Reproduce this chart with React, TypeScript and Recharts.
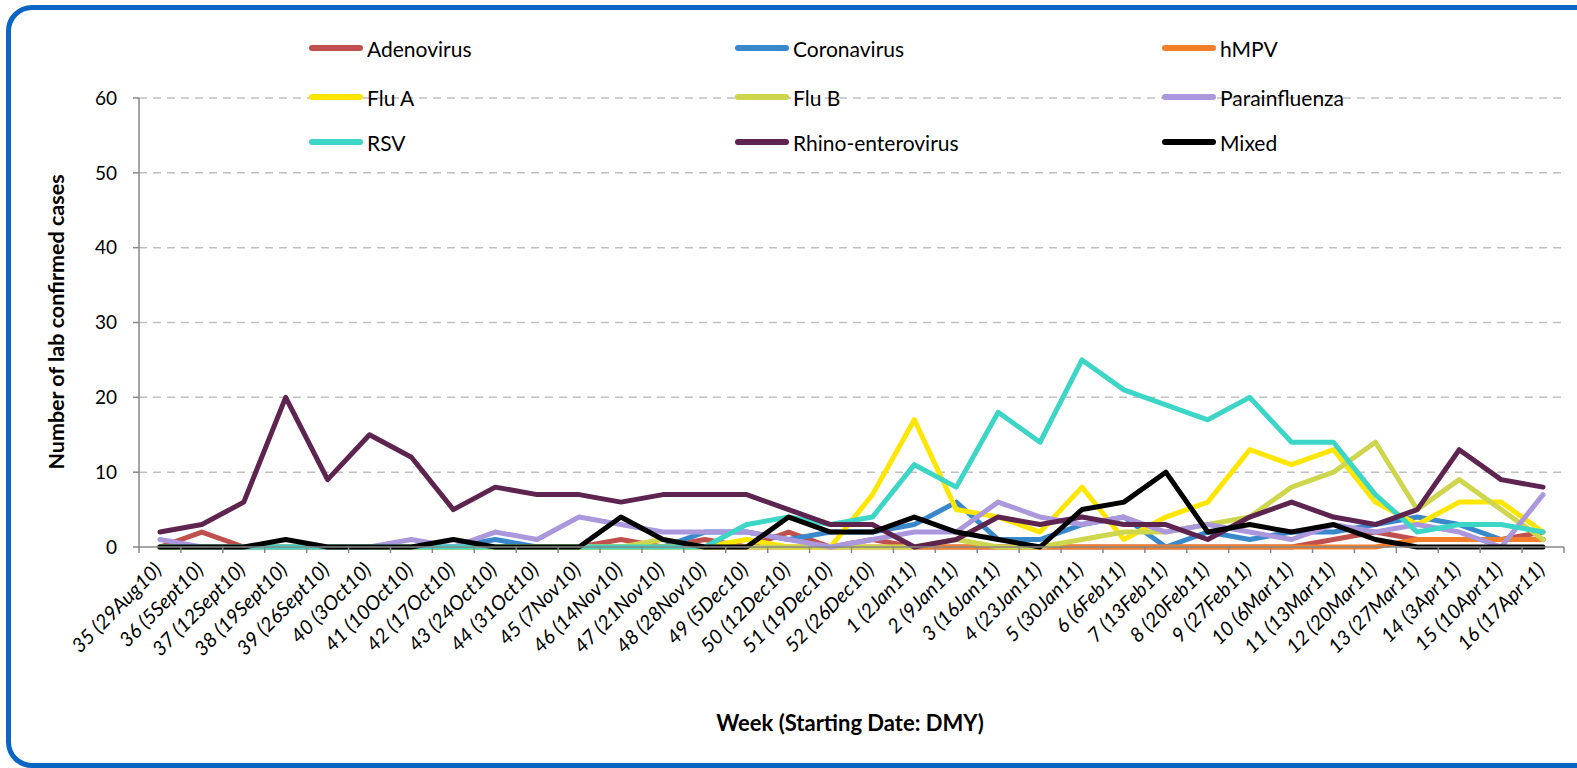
import { LineChart, Line, XAxis, YAxis, CartesianGrid } from "recharts";

const weeks = [
  "35 (29Aug10)", "36 (5Sept10)", "37 (12Sept10)", "38 (19Sept10)", "39 (26Sept10)",
  "40 (3Oct10)", "41 (10Oct10)", "42 (17Oct10)", "43 (24Oct10)", "44 (31Oct10)",
  "45 (7Nov10)", "46 (14Nov10)", "47 (21Nov10)", "48 (28Nov10)", "49 (5Dec10)",
  "50 (12Dec10)", "51 (19Dec10)", "52 (26Dec10)", "1 (2Jan11)", "2 (9Jan11)",
  "3 (16Jan11)", "4 (23Jan11)", "5 (30Jan11)", "6 (6Feb11)", "7 (13Feb11)",
  "8 (20Feb11)", "9 (27Feb11)", "10 (6Mar11)", "11 (13Mar11)", "12 (20Mar11)",
  "13 (27Mar11)", "14 (3Apr11)", "15 (10Apr11)", "16 (17Apr11)",
];

const adenovirus = [0, 2, 0, 0, 0, 0, 0, 0, 0, 0, 0, 1, 0, 1, 0, 2, 0, 1, 0, 0, 0, 0, 0, 0, 0, 0, 0, 0, 1, 2, 1, 1, 1, 2];
const coronavirus = [0, 0, 0, 0, 0, 0, 0, 0, 1, 0, 0, 0, 0, 2, 2, 1, 2, 2, 3, 6, 1, 1, 3, 4, 0, 2, 1, 2, 2, 3, 4, 3, 1, 1];
const hmpv = [0, 0, 0, 0, 0, 0, 0, 0, 0, 0, 0, 0, 0, 0, 0, 0, 0, 0, 0, 0, 0, 0, 0, 0, 0, 0, 0, 0, 0, 0, 1, 1, 1, 1];
const fluA = [0, 0, 0, 0, 0, 0, 0, 0, 0, 0, 0, 0, 0, 0, 1, 0, 0, 7, 17, 5, 4, 2, 8, 1, 4, 6, 13, 11, 13, 6, 3, 6, 6, 2];
const fluB = [0, 0, 0, 0, 0, 0, 0, 0, 0, 0, 0, 0, 1, 0, 0, 0, 0, 0, 0, 1, 0, 0, 1, 2, 2, 3, 4, 8, 10, 14, 5, 9, 5, 1];
const parainfluenza = [1, 0, 0, 0, 0, 0, 1, 0, 2, 1, 4, 3, 2, 2, 2, 1, 0, 1, 2, 2, 6, 4, 3, 4, 2, 3, 2, 1, 3, 2, 3, 2, 0, 7];
const rsv = [0, 0, 0, 0, 0, 0, 0, 0, 0, 0, 0, 0, 0, 0, 3, 4, 3, 4, 11, 8, 18, 14, 25, 21, 19, 17, 20, 14, 14, 7, 2, 3, 3, 2];
const rhino = [2, 3, 6, 20, 9, 15, 12, 5, 8, 7, 7, 6, 7, 7, 7, 5, 3, 3, 0, 1, 4, 3, 4, 3, 3, 1, 4, 6, 4, 3, 5, 13, 9, 8];
const mixed = [0, 0, 0, 1, 0, 0, 0, 1, 0, 0, 0, 4, 1, 0, 0, 4, 2, 2, 4, 2, 1, 0, 5, 6, 10, 2, 3, 2, 3, 1, 0, 0, 0, 0];

const yTicks = [0, 10, 20, 30, 40, 50, 60];

const series = [
  { name: "Adenovirus", color: "#c0504d", values: adenovirus },
  { name: "Coronavirus", color: "#3a88cc", values: coronavirus },
  { name: "hMPV", color: "#f47f2b", values: hmpv },
  { name: "Flu A", color: "#ffe600", values: fluA },
  { name: "Flu B", color: "#cdd64c", values: fluB },
  { name: "Parainfluenza", color: "#ab98dc", values: parainfluenza },
  { name: "RSV", color: "#3dd6c6", values: rsv },
  { name: "Rhino-enterovirus", color: "#5d2450", values: rhino },
  { name: "Mixed", color: "#000000", values: mixed },
];

const rows = weeks.map((week, i) => {
  const row: Record<string, string | number> = { week };
  series.forEach((s) => (row[s.name] = s.values[i]));
  return row;
});

const W = 1577;
const H = 768;
const PLOT_LEFT = 139;
const PLOT_RIGHT = 1564;
const PLOT_TOP = 98;
const PLOT_BOTTOM = 547;
const BAND = (PLOT_RIGHT - PLOT_LEFT) / weeks.length;
const AXIS = "#878787";
const FONT = "Lato, 'Liberation Sans', sans-serif";

const legendCols = [309, 735, 1162];
const legendRows = [48, 97, 142];

function WeekTick(props: any) {
  const { x, y, payload, index } = props;
  const last = index === weeks.length - 1;
  return (
    <g>
      <line x1={x - BAND / 2} x2={x - BAND / 2} y1={y} y2={y + 6} stroke={AXIS} strokeWidth={1.5} />
      {last && <line x1={x + BAND / 2} x2={x + BAND / 2} y1={y} y2={y + 6} stroke={AXIS} strokeWidth={1.5} />}
      <text
        transform={`translate(${x + 3},${y + 24}) rotate(-45)`}
        textAnchor="end"
        fontSize={20}
        fontStyle="italic"
        fontFamily={FONT}
        fill="#000"
      >
        {payload.value}
      </text>
    </g>
  );
}

export default function App() {
  return (
    <div style={{ position: "absolute", left: 0, top: 0, width: W, height: H, overflow: "hidden", background: "#fff", fontFamily: FONT }}>
      <div
        style={{
          position: "absolute",
          left: 6,
          top: 5,
          width: 1640,
          height: 763,
          boxSizing: "border-box",
          border: "5px solid #0b66c3",
          borderRadius: 26,
        }}
      />
      <div style={{ position: "absolute", left: 0, top: 0 }}>
        <LineChart
          width={W}
          height={H}
          data={rows}
          margin={{ top: PLOT_TOP, right: W - PLOT_RIGHT, left: 0, bottom: 0 }}
        >
          <CartesianGrid vertical={false} stroke="#c0c0c0" strokeWidth={1.5} strokeDasharray="8 6" horizontalValues={[10, 20, 30, 40, 50, 60]} />
          <XAxis
            dataKey="week"
            interval={0}
            height={H - PLOT_BOTTOM}
            padding={{ left: BAND / 2, right: BAND / 2 }}
            tickLine={false}
            tickSize={0}
            tickMargin={0}
            axisLine={{ stroke: AXIS, strokeWidth: 1.5 }}
            tick={<WeekTick />}
          />
          <YAxis
            width={PLOT_LEFT}
            domain={[0, 60]}
            ticks={yTicks}
            interval={0}
            tickSize={6}
            tickMargin={16}
            axisLine={{ stroke: AXIS, strokeWidth: 1.5 }}
            tickLine={{ stroke: AXIS, strokeWidth: 1.5 }}
            tick={{ fontSize: 19, fill: "#000", fontFamily: FONT }}
          />
          {series.map((s) => (
            <Line
              key={s.name}
              type="linear"
              dataKey={s.name}
              stroke={s.color}
              strokeWidth={5}
              strokeLinejoin="round"
              strokeLinecap="round"
              dot={false}
              activeDot={false}
              isAnimationActive={false}
            />
          ))}
        </LineChart>
      </div>

      {series.map((s, i) => {
        const cx = legendCols[i % 3];
        const cy = legendRows[Math.floor(i / 3)];
        return (
          <div key={s.name} style={{ position: "absolute", left: cx, top: cy - 14, height: 28, display: "flex", alignItems: "center" }}>
            <div style={{ width: 54, height: 6, borderRadius: 3, background: s.color }} />
            <span style={{ marginLeft: 4, fontSize: 21, color: "#000", whiteSpace: "nowrap" }}>{s.name}</span>
          </div>
        );
      })}

      <div
        style={{
          position: "absolute",
          left: 56,
          top: 322,
          transform: "translate(-50%, -50%) rotate(-90deg)",
          fontSize: 21.5,
          fontWeight: 700,
          whiteSpace: "nowrap",
        }}
      >
        Number of lab confirmed cases
      </div>
      <div
        style={{
          position: "absolute",
          left: 850,
          top: 722,
          transform: "translate(-50%, -50%)",
          fontSize: 22,
          fontWeight: 700,
          whiteSpace: "nowrap",
        }}
      >
        Week (Starting Date: DMY)
      </div>
    </div>
  );
}
